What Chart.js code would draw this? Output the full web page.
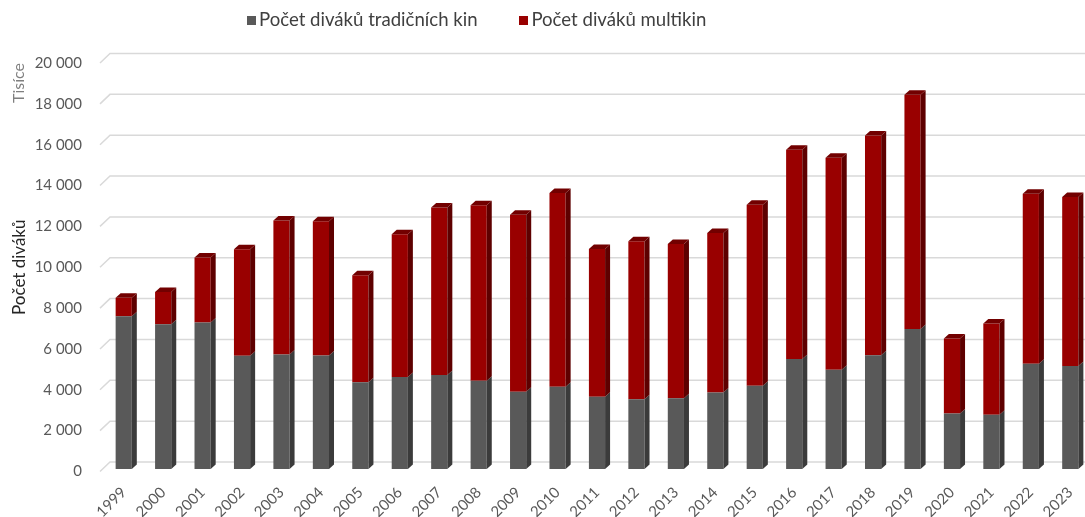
<!DOCTYPE html>
<html lang="cs">
<head>
<meta charset="utf-8">
<script src="https://cdn.jsdelivr.net/npm/chart.js@4"></script>
<style>
    html, body { margin: 0; padding: 0; overflow: hidden; background: #fff; }
    #wrap { position: relative; width: 1092px; height: 517px; }
    #legend { position: absolute; top: 8px; left: 247px; font: 18.6px Lato, sans-serif; color: #404040; white-space: nowrap; }
    #legend .item { display: inline-block; margin-right: 37px; }
    #legend .box { display: inline-block; width: 9px; height: 9px; margin-right: 3px; vertical-align: 1px; }
</style>
</head>
<body>
<div id="wrap">
    <canvas id="cinemaChart" width="1092" height="517"></canvas>
    <div id="legend">
        <span class="item"><span class="box" style="background:#595959"></span>Počet diváků tradičních kin</span>
        <span class="item"><span class="box" style="background:#990000"></span>Počet diváků multikin</span>
    </div>
</div>
<script>
const years = ['1999', '2000', '2001', '2002', '2003', '2004', '2005', '2006', '2007', '2008',
    '2009', '2010', '2011', '2012', '2013', '2014', '2015', '2016', '2017', '2018',
    '2019', '2020', '2021', '2022', '2023'];
// thousands of viewers
const traditional = [7480, 7090, 7170, 5540, 5600, 5560, 4250, 4510, 4600, 4320,
    3780, 4030, 3540, 3410, 3460, 3750, 4070, 5380, 4860, 5570,
    6850, 2720, 2660, 5150, 5040];
const multiplex = [900, 1580, 3180, 5220, 6570, 6570, 5240, 6980, 8200, 8590,
    8670, 9480, 7230, 7740, 7560, 7810, 8870, 10250, 10380, 10760,
    11470, 3670, 4460, 8330, 8280];
const yMax = 20000;
const yStep = 2000;

function formatThousands(v) {
    return String(v).replace(/\B(?=(\d{3})+(?!\d))/g, ' ');
}

// fake excel 3d look: back wall gridlines, bar sides and caps
const depthPlugin = {
    id: 'depth',
    beforeDatasetsDraw(chart) {
        const ctx = chart.ctx;
        const area = chart.chartArea;
        const y = chart.scales.y;
        ctx.save();
        ctx.strokeStyle = '#d9d9d9';
        ctx.lineWidth = 1.5;
        y.ticks.forEach(function (t) {
            const py = y.getPixelForValue(t.value);
            ctx.beginPath();
            ctx.moveTo(area.left - 4, py);
            ctx.lineTo(area.left + 6, py - 9.5);
            ctx.lineTo(chart.width, py - 9.5);
            ctx.stroke();
        });
        ctx.restore();
        ctx.save();
        ctx.translate(0, -2.5);
    },
    afterDatasetsDraw(chart) {
        const ctx = chart.ctx;
        const dx = 5, dy = 4.5;
        const sides = ['#3b3b3b', '#5e0000'];
        chart.data.datasets.forEach(function (ds, di) {
            chart.getDatasetMeta(di).data.forEach(function (el) {
                const p = el.getProps(['x', 'y', 'base', 'width'], true);
                const r = p.x + p.width / 2;
                const l = p.x - p.width / 2;
                ctx.fillStyle = sides[di];
                ctx.beginPath();
                ctx.moveTo(r, p.y);
                ctx.lineTo(r + dx, p.y - dy);
                ctx.lineTo(r + dx, p.base - dy);
                ctx.lineTo(r, p.base);
                ctx.closePath();
                ctx.fill();
                if (di === chart.data.datasets.length - 1) {
                    ctx.fillStyle = '#720000';
                    ctx.beginPath();
                    ctx.moveTo(l, p.y);
                    ctx.lineTo(l + dx, p.y - dy);
                    ctx.lineTo(r + dx, p.y - dy);
                    ctx.lineTo(r, p.y);
                    ctx.closePath();
                    ctx.fill();
                }
            });
        });
        ctx.restore();
    },
    afterDraw(chart) {
        const ctx = chart.ctx;
        ctx.save();
        ctx.translate(19, 83);
        ctx.rotate(-Math.PI / 2);
        ctx.fillStyle = '#7f7f7f';
        ctx.font = '16px Lato, sans-serif';
        ctx.textAlign = 'center';
        ctx.textBaseline = 'middle';
        ctx.fillText('Tisíce', 0, 0);
        ctx.restore();
    }
};

const ctx = document.getElementById('cinemaChart');
new Chart(ctx, {
    type: 'bar',
    data: {
        labels: years,
        datasets: [{
            label: 'Počet diváků tradičních kin',
            data: traditional,
            backgroundColor: '#595959',
            barPercentage: 0.41,
            categoryPercentage: 1
        }, {
            label: 'Počet diváků multikin',
            data: multiplex,
            backgroundColor: '#990000',
            barPercentage: 0.41,
            categoryPercentage: 1
        }]
    },
    options: {
        responsive: false,
        animation: false,
        layout: {
            padding: { top: 63, right: 2, left: 0, bottom: 0 }
        },
        plugins: {
            legend: { display: false },
            tooltip: { enabled: false }
        },
        scales: {
            x: {
                stacked: true,
                grid: { display: false },
                border: { display: false },
                ticks: {
                    autoSkip: false,
                    minRotation: 45,
                    maxRotation: 45,
                    padding: 4,
                    color: '#595959',
                    font: { family: 'Lato', size: 15 }
                },
                afterFit: function (s) { s.height = 45.5; }
            },
            y: {
                stacked: true,
                min: 0,
                max: yMax,
                grid: { display: false, drawTicks: false },
                border: { display: false },
                ticks: {
                    stepSize: yStep,
                    padding: 22,
                    color: '#595959',
                    font: { family: 'Lato', size: 15 },
                    callback: function (v) { return formatThousands(v); }
                },
                title: {
                    display: true,
                    text: 'Počet diváků',
                    color: '#262626',
                    font: { family: 'Lato', size: 17 },
                    padding: { top: 9, bottom: 0 }
                },
                afterFit: function (s) { s.width = 104; }
            }
        }
    },
    plugins: [depthPlugin]
});
</script>
</body>
</html>
